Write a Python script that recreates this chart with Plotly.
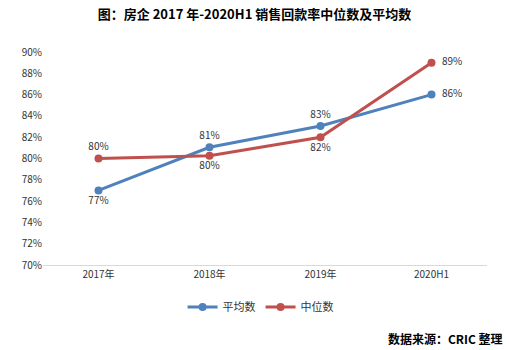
import plotly.graph_objects as go

categories = ["2017年", "2018年", "2019年", "2020H1"]
avg_vals = [77, 81.05, 83.05, 86]
med_vals = [80, 80.26, 82, 89]
avg_labels = ["77%", "81%", "83%", "  86%"]
med_labels = ["80%", "80%", "82%", "  89%"]
y_ticks = [70, 72, 74, 76, 78, 80, 82, 84, 86, 88, 90]
y_tick_text = [f"{v}%" for v in y_ticks]

avg_pos = ["bottom center", "top center", "top center", "middle right"]
med_pos = ["top center", "bottom center", "bottom center", "middle right"]

font_main = "Noto Sans CJK SC, DejaVu Sans, sans-serif"

fig = go.Figure()
fig.add_trace(go.Scatter(
    x=categories, y=avg_vals, name="平均数", mode="lines+markers+text",
    line=dict(color="#4F81BD", width=3), marker=dict(size=8, color="#4F81BD"),
    text=avg_labels, textposition=avg_pos,
    textfont=dict(size=10, color="#333333", family=font_main),
))
fig.add_trace(go.Scatter(
    x=categories, y=med_vals, name="中位数", mode="lines+markers+text",
    line=dict(color="#C0504D", width=3), marker=dict(size=8, color="#C0504D"),
    text=med_labels, textposition=med_pos,
    textfont=dict(size=10, color="#333333", family=font_main),
))

fig.update_layout(
    width=509, height=350,
    margin=dict(l=43, r=22, t=52, b=85),
    paper_bgcolor="white", plot_bgcolor="white",
    title=dict(text="<b>图：房企 2017 年-2020H1 销售回款率中位数及平均数</b>",
               x=0.5, xanchor="center", y=0.958, yanchor="middle",
               font=dict(size=13, color="#000000", family=font_main)),
    showlegend=True,
    legend=dict(orientation="h", x=0.49, xanchor="center", y=-0.197, yanchor="middle",
                font=dict(size=11, color="#333333", family=font_main)),
    xaxis=dict(type="category", range=[-0.5, 3.5], showgrid=False,
               showline=True, linecolor="#D9D9D9", linewidth=1, ticks="",
               tickfont=dict(size=10, color="#333333", family=font_main)),
    yaxis=dict(range=[70, 90], tickvals=y_ticks, ticktext=y_tick_text,
               showgrid=False, zeroline=False, showline=False, ticks="",
               tickfont=dict(size=10, color="#333333", family=font_main)),
    annotations=[dict(text="<b>数据来源：CRIC 整理</b>", xref="paper", yref="paper",
                      x=1.04, y=-0.343, xanchor="right", yanchor="middle", showarrow=False,
                      font=dict(size=12, color="#000000", family=font_main))],
)

fig.write_html("out.html")
